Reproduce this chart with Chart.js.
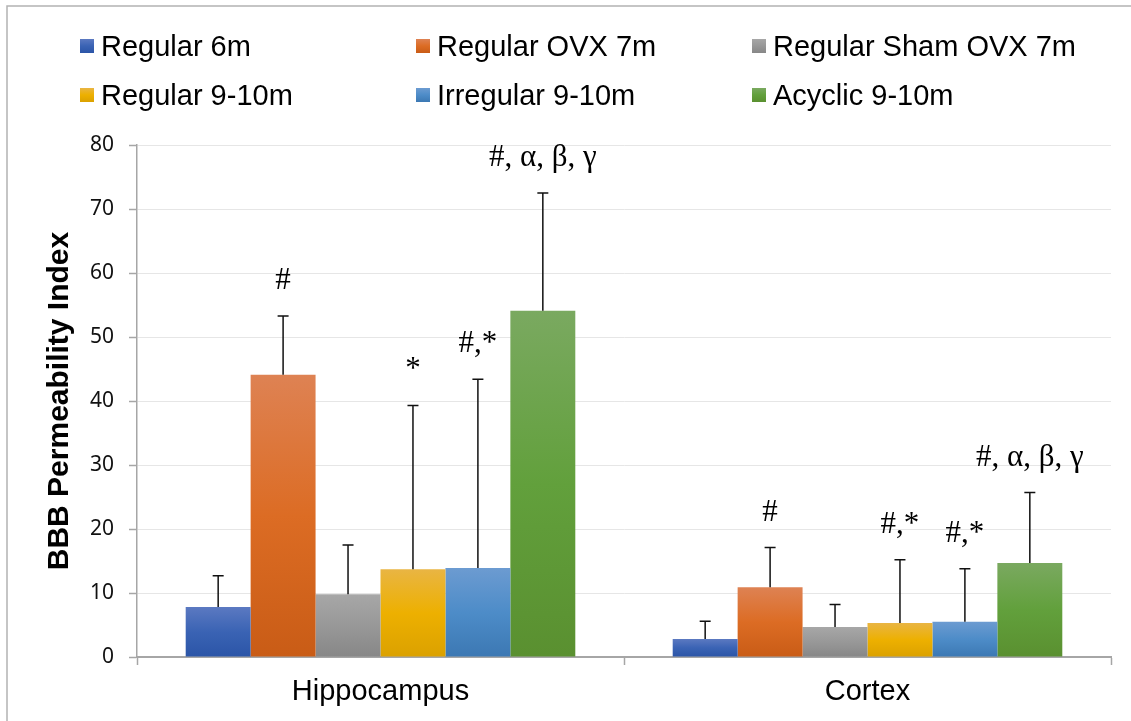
<!DOCTYPE html>
<html>
<head>
<meta charset="utf-8">
<script src="https://cdn.jsdelivr.net/npm/chart.js@4.4.1/dist/chart.umd.min.js"></script>
<style>
  html, body { margin: 0; padding: 0; background: #fff; overflow: hidden; }
  #wrap { width: 1131px; height: 721px; }
</style>
</head>
<body>
<div id="wrap"><canvas id="c" width="1131" height="721"></canvas></div>
<script>
// Brain regions on the x axis
const regions = ['Hippocampus', 'Cortex'];

// Groups (one bar series each)
const groups = ['Regular 6m', 'Regular OVX 7m', 'Regular Sham OVX 7m',
                'Regular 9-10m', 'Irregular 9-10m', 'Acyclic 9-10m'];

// Mean BBB permeability index per region
const regular6m     = [7.8, 2.8];
const regularOvx7m  = [44.1, 10.9];
const regularSham7m = [9.8, 4.7];
const regular910m   = [13.7, 5.3];
const irregular910m = [13.9, 5.5];
const acyclic910m   = [54.1, 14.7];

// Upper error (SD) per region
const err6m     = [4.9, 2.8];
const errOvx7m  = [9.2, 6.2];
const errSham7m = [7.7, 3.5];
const err910m   = [25.6, 9.9];
const errIrr910 = [29.5, 8.3];
const errAcy910 = [18.4, 11.0];

// Significance marks per region
const sig6m     = ['', ''];
const sigOvx7m  = ['#', '#'];
const sigSham7m = ['', ''];
const sig910m   = ['*', '#,*'];
const sigIrr910 = ['#,*', '#,*'];
const sigAcy910 = ['#, α, β, γ', '#, α, β, γ'];

// Y axis ticks
const yTicks = [0, 10, 20, 30, 40, 50, 60, 70, 80];

// Gradient stops (top, middle, bottom) per series
const shades = [
  ['#5b79c1', '#3a63b4', '#2b55a7'],
  ['#de8253', '#dc6c24', '#c95c16'],
  ['#a7a7a7', '#989898', '#878787'],
  ['#e9b543', '#edb000', '#dba100'],
  ['#6c9bd1', '#4d8cc8', '#3c78b3'],
  ['#7aa960', '#62a03c', '#5a9030']
];

const seriesValues = [regular6m, regularOvx7m, regularSham7m, regular910m, irregular910m, acyclic910m];
const seriesErrors = [err6m, errOvx7m, errSham7m, err910m, errIrr910, errAcy910];
const seriesMarks  = [sig6m, sigOvx7m, sigSham7m, sig910m, sigIrr910, sigAcy910];

function vGradient(ctx, top, bottom, stops) {
  const g = ctx.createLinearGradient(0, top, 0, bottom);
  g.addColorStop(0, stops[0]);
  g.addColorStop(0.5, stops[1]);
  g.addColorStop(1, stops[2]);
  return g;
}

function barFill(i) {
  return function (context) {
    const chart = context.chart;
    if (!chart.chartArea || context.type !== 'data') return shades[i][1];
    const y = chart.scales.y;
    const top = y.getPixelForValue(context.raw);
    const base = y.getPixelForValue(0);
    if (!(base > top)) return shades[i][1];
    return vGradient(chart.ctx, top, base, shades[i]);
  };
}

const datasets = groups.map((name, i) => ({
  label: name,
  data: seriesValues[i],
  errors: seriesErrors[i],
  marks: seriesMarks[i],
  backgroundColor: barFill(i),
  borderWidth: 0,
  categoryPercentage: 0.8,
  barPercentage: 1.0
}));

// White page with the frame line along the left and top edges
const framePlugin = {
  id: 'frame',
  beforeDraw(chart) {
    const c = chart.ctx;
    c.save();
    c.fillStyle = '#ffffff';
    c.fillRect(0, 0, chart.width, chart.height);
    c.strokeStyle = '#b3b3b3';
    c.lineWidth = 1.5;
    c.beginPath();
    c.moveTo(7, chart.height + 2);
    c.lineTo(7, 6);
    c.lineTo(chart.width + 2, 6);
    c.stroke();
    c.restore();
  }
};

// Upper error bars and significance marks
const errorPlugin = {
  id: 'errorBars',
  afterDatasetsDraw(chart) {
    const c = chart.ctx;
    const y = chart.scales.y;
    c.save();
    chart.data.datasets.forEach((ds, i) => {
      const meta = chart.getDatasetMeta(i);
      meta.data.forEach((bar, j) => {
        const v = ds.data[j];
        const e = ds.errors[j];
        const yTop = y.getPixelForValue(v + e);
        const yBar = y.getPixelForValue(v);
        c.strokeStyle = '#111';
        c.lineWidth = 1.5;
        c.beginPath();
        c.moveTo(bar.x, yBar);
        c.lineTo(bar.x, yTop);
        c.moveTo(bar.x - 5.5, yTop);
        c.lineTo(bar.x + 5.5, yTop);
        c.stroke();
        const m = ds.marks[j];
        if (m) {
          c.fillStyle = '#000';
          c.font = '31px "Liberation Serif", "Times New Roman", serif';
          c.textAlign = 'center';
          c.textBaseline = 'alphabetic';
          c.fillText(m, bar.x, yTop - 27);
        }
      });
    });
    c.restore();
  }
};

// Three-column legend across the top
const gridLegendPlugin = {
  id: 'gridLegend',
  afterDraw(chart) {
    const c = chart.ctx;
    const o = chart.options.plugins.gridLegend;
    c.save();
    chart.data.datasets.forEach((ds, i) => {
      const col = i % o.columns;
      const row = Math.floor(i / o.columns);
      const x = o.left + col * o.colWidth;
      const base = o.top + row * o.rowHeight;
      const sq = o.box;
      const sTop = base - 17;
      c.fillStyle = vGradient(c, sTop, sTop + sq, shades[i]);
      c.fillRect(x, sTop, sq, sq);
      c.fillStyle = '#000';
      c.font = o.font;
      c.textAlign = 'left';
      c.textBaseline = 'alphabetic';
      c.fillText(ds.label, x + sq + 7, base);
    });
    c.restore();
  }
};

new Chart(document.getElementById('c'), {
  type: 'bar',
  data: { labels: regions, datasets: datasets },
  plugins: [framePlugin, errorPlugin, gridLegendPlugin],
  options: {
    responsive: false,
    animation: false,
    events: [],
    layout: { padding: { top: 145, left: 0, right: 20, bottom: 0 } },
    plugins: {
      legend: { display: false },
      tooltip: { enabled: false },
      gridLegend: {
        columns: 3, left: 80, colWidth: 336, top: 56, rowHeight: 49, box: 14,
        font: '29px "Liberation Sans", Arial, sans-serif'
      }
    },
    scales: {
      x: {
        afterFit(scale) { scale.height = 64; },
        grid: {
          offset: true,
          drawOnChartArea: false,
          drawTicks: true,
          tickLength: 8,
          tickColor: '#a6a6a6',
          tickWidth: 1.5
        },
        border: { display: true, color: '#a6a6a6', width: 2 },
        ticks: {
          color: '#000',
          padding: 10,
          font: { family: '"Liberation Sans", Arial, sans-serif', size: 29 }
        }
      },
      y: {
        min: 0,
        max: 80,
        afterFit(scale) { scale.width = 137; },
        afterBuildTicks(scale) { scale.ticks = yTicks.map(v => ({ value: v })); },
        grid: {
          color: '#e6e6e6',
          lineWidth: 1,
          drawTicks: true,
          tickLength: 8,
          tickColor: '#a6a6a6',
          tickWidth: 1.5
        },
        border: { display: true, color: '#a6a6a6', width: 1.5 },
        ticks: {
          color: '#111',
          padding: 15,
          font: { family: '"Noto Sans", "Open Sans", sans-serif', size: 21 }
        },
        title: {
          display: true,
          text: 'BBB Permeability Index',
          color: '#000',
          padding: { top: 42, bottom: 0 },
          font: { family: '"Liberation Sans", Arial, sans-serif', size: 30, weight: 'bold' }
        }
      }
    }
  }
});
</script>
</body>
</html>
